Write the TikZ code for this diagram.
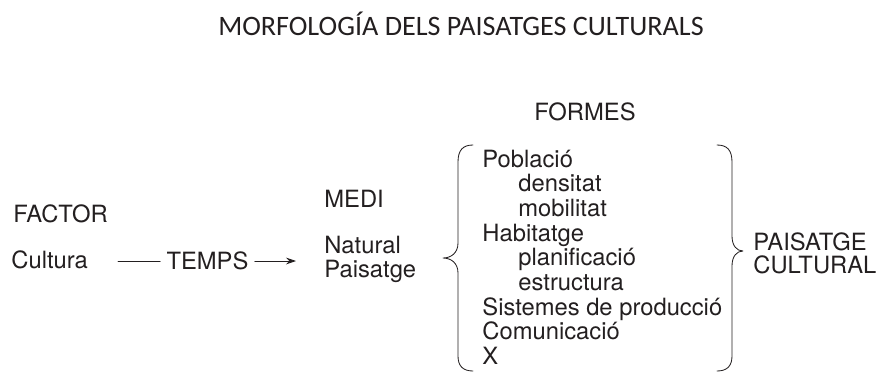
\documentclass[tikz,border=0pt]{standalone}
\usepackage{fontspec}
\setmainfont{TeX Gyre Heros}
\newfontfamily\titlefont{Carlito}
\usetikzlibrary{arrows.meta}
\definecolor{ink}{RGB}{35,31,32}
\begin{document}
\begin{tikzpicture}[
	x=0.025cm,
	y=-0.025cm,
	line width=0.6pt,
	line cap=round,
	line join=round,
	>={Stealth[length=0.25cm,width=0.17cm]},
	every node/.style={inner sep=0pt,text=ink,font=\fontsize{16.9pt}{18pt}\selectfont},
	lbl/.style={anchor=base west}
	]
	\useasboundingbox (0,0) rectangle (882,371);
	\node[anchor=base,font=\titlefont\fontsize{20pt}{22pt}\selectfont] (title) at (461,35) {MORFOLOGÍA DELS PAISATGES CULTURALS};
	\node[lbl] (factor) at (13,222) {FACTOR};
	\node[lbl] (cultura) at (11,268) {Cultura};
	\node[inner xsep=0.15cm] (temps) at (207.5,261) {TEMPS};
	\coordinate (t0) at (118,261);
	\coordinate (t1) at (296,261);
	\begin{scope}[draw=ink]
		\draw (t0) -- (temps.west);
		\draw[->] (temps.east) -- (t1);
	\end{scope}
	\node[lbl] (medi) at (324,207) {MEDI};
	\node[lbl] (natural) at (324,253) {Natural};
	\node[lbl] (paisatge) at (324,277) {Paisatge};
	\node[anchor=base] (formes) at (585,120) {FORMES};
	\node[lbl] (poblacio) at (482,167) {Població};
	\node[lbl] (densitat) at (518,191.7) {densitat};
	\node[lbl] (mobilitat) at (518,216.4) {mobilitat};
	\node[lbl] (habitatge) at (482,241.1) {Habitatge};
	\node[lbl] (planif) at (518,265.8) {planificació};
	\node[lbl] (estructura) at (518,290.5) {estructura};
	\node[lbl] (sistemes) at (482,315.2) {Sistemes de producció};
	\node[lbl] (comunic) at (482,339.9) {Comunicació};
	\node[lbl] (x) at (482,364.6) {X};
	\begin{scope}[draw=ink]
		\draw (473,145) .. controls (463,145) and (458,150) .. (458,162) -- (458,243) .. controls (458,253) and (451,258) .. (443,258) .. controls (451,258) and (458,263) .. (458,273) -- (458,356) .. controls (458,366) and (463,371) .. (473,371);
		\draw (717,145) .. controls (727,145) and (732,150) .. (732,162) -- (732,236) .. controls (732,246) and (737,251) .. (743,251) .. controls (737,251) and (732,256) .. (732,266) -- (732,356) .. controls (732,366) and (727,371) .. (717,371);
	\end{scope}
	\node[lbl] (pcult1) at (753,250) {PAISATGE};
	\node[lbl] (pcult2) at (753,273) {CULTURAL};
\end{tikzpicture}
\end{document}
